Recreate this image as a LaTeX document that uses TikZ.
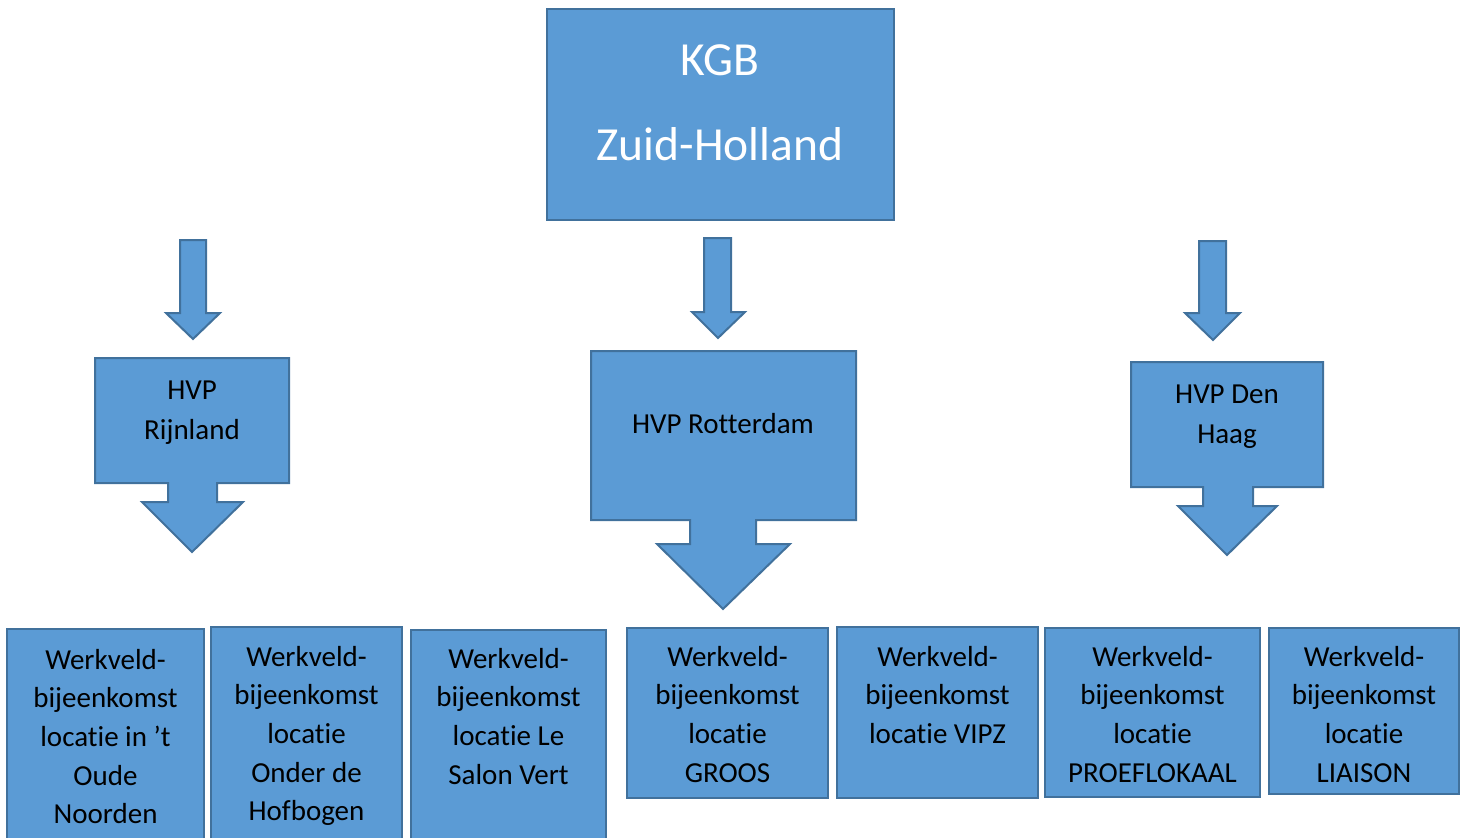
\documentclass[tikz,border=0pt]{standalone}
\usepackage{fontspec}
\setmainfont{Carlito}[Ligatures=NoCommon]
\definecolor{boxfill}{HTML}{5B9BD5}
\definecolor{boxline}{HTML}{41719C}
\begin{document}
\begin{tikzpicture}[x=1pt,y=-1pt,
  shapebox/.style={fill=boxfill,draw=boxline,line width=2pt,line join=miter},
  txt/.style={inner sep=0pt,align=center,anchor=base,font=\fontsize{29}{38.7}\selectfont},
  bigtxt/.style={inner sep=0pt,anchor=base,text=white,font=\fontsize{47.5}{56}\selectfont}]
\useasboundingbox (0,0) rectangle (1460,838);
\clip (0,0) rectangle (1460,838);
% top box
\draw[shapebox] (547,9) rectangle (894,220);
\node[bigtxt] (kgb) at (720,75) {KGB};
\node[bigtxt] (zh) at (720,160) {Zuid-Holland};
% block arrows
\draw[shapebox] (180,240) -- (206,240) -- (206,313) -- (220,313) -- (193,339) -- (166,313) -- (180,313) -- cycle;
\draw[shapebox] (704,238) -- (731,238) -- (731,312) -- (745,312) -- (718,338) -- (692,312) -- (704,312) -- cycle;
\draw[shapebox] (1199,241) -- (1226,241) -- (1226,313) -- (1240,313) -- (1213,340) -- (1185,313) -- (1199,313) -- cycle;
% callouts
\draw[shapebox] (95,358) -- (289,358) -- (289,483) -- (217,483) -- (217,502) -- (243,502) -- (192,552) -- (142,502) -- (168,502) -- (168,483) -- (95,483) -- cycle;
\node[txt,font=\fontsize{29}{40}\selectfont] (rijn) at (192,439) {HVP\\Rijnland};
\draw[shapebox] (591,351) -- (856,351) -- (856,520) -- (756,520) -- (756,544) -- (790,544) -- (723,609) -- (657,544) -- (690,544) -- (690,520) -- (591,520) -- cycle;
\node[txt] (rdam) at (723,433) {HVP Rotterdam};
\draw[shapebox] (1131,362) -- (1323,362) -- (1323,487) -- (1253,487) -- (1253,506) -- (1277,506) -- (1227,555) -- (1178,506) -- (1203,506) -- (1203,487) -- (1131,487) -- cycle;
\node[txt,font=\fontsize{29}{40}\selectfont] (haag) at (1227,443) {HVP Den\\Haag};
% bottom boxes
\draw[shapebox] (7,629) rectangle (204,850);
\node[txt] (w1) at (105.5,823.8) {Werkveld-\\bijeenkomst\\locatie in ’t\\Oude\\Noorden};
\draw[shapebox] (211,627) rectangle (402,850);
\node[txt] (w2) at (306.5,820.8) {Werkveld-\\bijeenkomst\\locatie\\Onder de\\Hofbogen};
\draw[shapebox] (411,630) rectangle (606,850);
\node[txt] (w3) at (508.5,784.1) {Werkveld-\\bijeenkomst\\locatie Le\\Salon Vert};
\draw[shapebox] (627,628) rectangle (828,798);
\node[txt] (w4) at (727.5,782.1) {Werkveld-\\bijeenkomst\\locatie\\GROOS};
\draw[shapebox] (837,627) rectangle (1038,798);
\node[txt] (w5) at (937.5,743.4) {Werkveld-\\bijeenkomst\\locatie VIPZ};
\draw[shapebox] (1045,628) rectangle (1260,797);
\node[txt] (w6) at (1152.5,782.1) {Werkveld-\\bijeenkomst\\locatie\\PROEFLOKAAL};
\draw[shapebox] (1269,628) rectangle (1459,794);
\node[txt] (w7) at (1364,782.1) {Werkveld-\\bijeenkomst\\locatie\\LIAISON};
\end{tikzpicture}
\end{document}
